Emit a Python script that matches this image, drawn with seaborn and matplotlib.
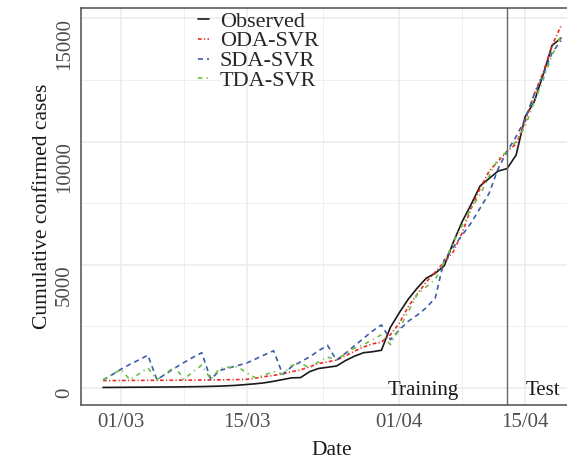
import matplotlib
matplotlib.use("Agg")
import matplotlib.pyplot as plt
import matplotlib.dates as mdates
import seaborn as sns
import pandas as pd

# daily values 28/02/2020 - 19/04/2020
dates = pd.date_range("2020-02-28", "2020-04-19", freq="D")
observed = [10, 12, 15, 18, 20, 22, 25, 28, 30, 35, 40, 45, 55, 65, 80,
            100, 130, 160, 200, 260, 330, 400, 410, 650, 780, 830, 880, 1100,
            1280, 1420, 1460, 1520, 2450, 3050, 3600, 4050, 4450, 4650, 4950,
            5900, 6750, 7450, 8200, 8500, 8800, 8900, 9450, 11000, 11600,
            12700, 13900, 14200]
oda_svr = [290, 290, 292, 294, 296, 298, 300, 302, 304, 306, 308, 310, 315,
           320, 325, 330, 340, 390, 450, 500, 560, 650, 720, 850, 980, 1050,
           1120, 1300, 1480, 1650, 1780, 1850, 2150, 2620, 3300, 3800, 4300,
           4700, 5100, 5520, 6300, 7300, 8100, 8800, 9200, 9600, 9900, 10800,
           11900, 12800, 13900, 14700]
sda_svr = [313, 520, 750, 950, 1130, 1320, 330, 560, 800, 1020, 1230, 1420,
           340, 700, 800, 900, 1000, 1170, 1340, 1500, 550, 850, 1050, 1250,
           1500, 1720, 1120, 1400, 1700, 2000, 2300, 2550, 1950, 2350, 2700,
           2950, 3250, 3650, 5200, 5700, 6200, 6700, 7300, 7900, 8900, 9600,
           10200, 10900, 11900, 12700, 13600, 14100]
tda_svr = [313, 530, 750, 320, 560, 800, 320, 590, 850, 340, 640, 920, 340,
           780, 830, 850, 600, 400, 520, 650, 560, 900, 1000, 800, 1050, 1250,
           1120, 1400, 1600, 1750, 1950, 2150, 1750, 2400, 3100, 3800, 4100,
           4400, 5100, 5900, 6600, 7300, 7850, 8600, 9300, 9600, 10000, 10600,
           11600, 12500, 13500, 14300]

models = ["Observed", "ODA-SVR", "SDA-SVR", "TDA-SVR"]
split_date = pd.Timestamp("2020-04-13")
x_breaks = pd.to_datetime(["2020-03-01", "2020-03-15", "2020-04-01", "2020-04-15"])
x_minor = pd.to_datetime(["2020-03-08 00:00", "2020-03-23 12:00", "2020-04-08 00:00"])
y_breaks = [0, 5000, 10000, 15000]
y_minor = [2500, 7500, 12500]

df = pd.concat([pd.DataFrame({"Date": dates, "Cases": vals, "Model": name})
                for name, vals in zip(models, [observed, oda_svr, sda_svr, tda_svr])],
               ignore_index=True)

sns.set_theme(style="white")
plt.rcParams["font.family"] = ["Liberation Serif", "DejaVu Serif"]

fig = plt.figure(figsize=(5.67, 4.61), dpi=100)
ax = fig.add_axes([81 / 567, 56 / 461, 503 / 567, 397 / 461])

palette = {"Observed": "#1A1A1A", "ODA-SVR": "#EE2A24",
           "SDA-SVR": "#3C5DAA", "TDA-SVR": "#6DBE45"}
dashes = {"Observed": "", "ODA-SVR": (2.2, 1.4, 0.7, 1.4),
          "SDA-SVR": (3.0, 2.4), "TDA-SVR": (2.6, 2.6, 0.7, 2.6)}
sns.lineplot(data=df, x="Date", y="Cases", hue="Model", style="Model",
             hue_order=models, style_order=models, palette=palette,
             dashes=dashes, linewidth=1.2, estimator=None, ax=ax)

origin = pd.Timestamp("2020-03-01")
ax.set_xlim(mdates.date2num(origin - pd.Timedelta(days=4.45)),
            mdates.date2num(origin + pd.Timedelta(days=51.56)))
ax.set_ylim(-703, 15423)

ax.set_xticks(mdates.date2num(x_breaks))
ax.set_xticks(mdates.date2num(x_minor), minor=True)
ax.xaxis.set_major_formatter(mdates.DateFormatter("%d/%m"))
ax.set_yticks(y_breaks)
ax.set_yticks(y_minor, minor=True)
ax.set_yticklabels([str(v) for v in y_breaks], rotation=90, va="top")

ax.set_axisbelow(True)
ax.grid(which="major", color="#EBEBEB", lw=1.1)
ax.grid(which="minor", color="#EBEBEB", lw=0.55)
ax.tick_params(which="major", length=3.6, width=1.0, color="#333333",
               labelsize=15, labelcolor="#4D4D4D")
ax.tick_params(axis="x", pad=2.5)
ax.tick_params(axis="y", pad=1.5)
ax.tick_params(which="minor", length=0)
for side in ["top", "left", "bottom"]:
    ax.spines[side].set_color("#4D4D4D")
    ax.spines[side].set_linewidth(1.1)
ax.spines["right"].set_visible(False)

ax.axvline(mdates.date2num(split_date), color="#666666", lw=1.0)
ax.text(mdates.date2num(origin + pd.Timedelta(days=33.68)), -297, "Training",
        ha="center", va="baseline", fontsize=15, color="#1A1A1A")
ax.text(mdates.date2num(origin + pd.Timedelta(days=47.0)), -297, "Test",
        ha="center", va="baseline", fontsize=15, color="#1A1A1A")

ax.set_xlabel("Date", fontsize=15.5, color="#1A1A1A")
ax.set_ylabel("Cumulative confirmed cases", fontsize=15.5, color="#1A1A1A")
ax.xaxis.label.set_va("center")
ax.yaxis.label.set_va("center")
ax.xaxis.set_label_coords(0.499, -0.115)
ax.yaxis.set_label_coords(-0.0775, 0.5)

handles, labels = ax.get_legend_handles_labels()
ax.legend(handles, labels, loc="upper left",
          bbox_to_anchor=(197.7 / 567, 1 - 11.0 / 461),
          bbox_transform=fig.transFigure, frameon=False, fontsize=16,
          handlelength=0.5, handletextpad=0.5, labelspacing=-0.03,
          borderpad=0, borderaxespad=0)

fig.savefig("out.png", dpi=100)
